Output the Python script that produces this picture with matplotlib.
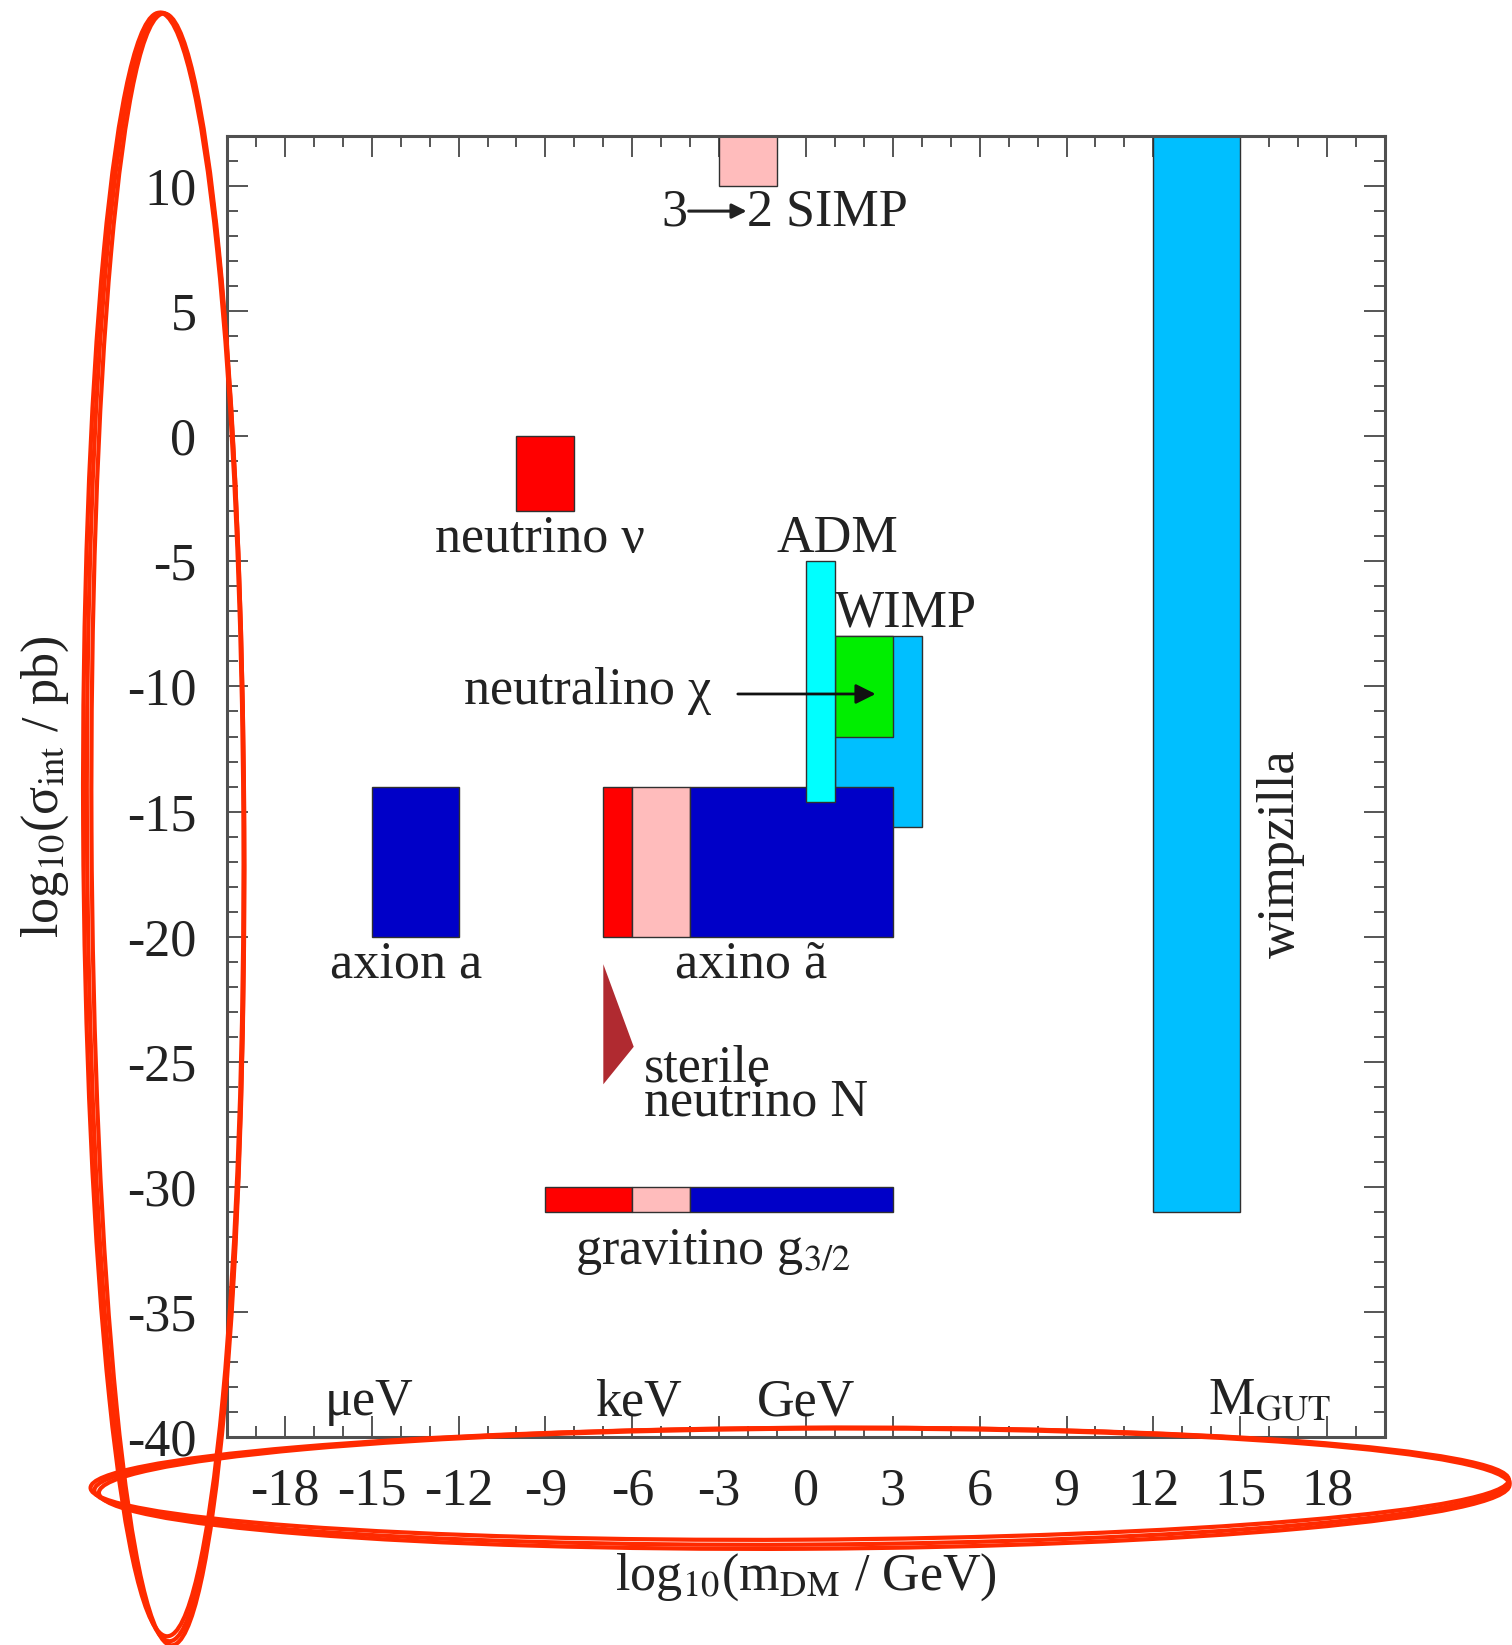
import matplotlib
matplotlib.use("Agg")
import matplotlib.pyplot as plt
from matplotlib.patches import Rectangle, Polygon, Ellipse
from matplotlib.ticker import MultipleLocator

plt.rcParams['font.family'] = ['Liberation Serif', 'DejaVu Serif']
plt.rcParams['mathtext.fontset'] = 'stix'
plt.rcParams['axes.unicode_minus'] = False

# =====================================================
# Candidate regions: (x0, x1, y0, y1, colour)
# x = log10(m / GeV), y = log10(sigma / pb)
# =====================================================

simp_box = [(-3, -1, 10, 12, "#ffbcbc")]
neutrino_box = [(-10, -8, -3, 0, "#ff0000")]
wimp_box = [(1, 4, -15.6, -8, "#00bfff")]
neutralino_box = [(1, 3, -12, -8, "#00ee00")]
axion_box = [(-15, -12, -20, -14, "#0000c8")]
axino_boxes = [
    (-7, -6, -20, -14, "#ff0000"),
    (-6, -4, -20, -14, "#ffbcbc"),
    (-4, 3, -20, -14, "#0000c8"),
]
adm_box = [(0, 1, -14.6, -5, "#00ffff")]
gravitino_boxes = [
    (-9, -6, -31, -30, "#ff0000"),
    (-6, -4, -31, -30, "#ffbcbc"),
    (-4, 3, -31, -30, "#0000c8"),
]
wimpzilla_box = [(12, 15, -31, 12, "#00bfff")]

sterile_x = [-7, -5.95, -7]
sterile_y = [-21.1, -24.4, -25.9]

# labels: (x, y, text)
box_labels = [
    (-9.2, -4.1, "neutrino ν"),
    (1.1, -4.1, "ADM"),
    (3.45, -7.1, "WIMP"),
    (-7.55, -10.2, "neutralino χ"),
    (-13.8, -21.1, "axion a"),
    (-1.9, -21.1, "axino ã"),
    (-3.2, -32.6, r"gravitino g$_{3/2}$"),
]
scale_labels = [
    (-15.1, -38.6, "μeV"),
    (-5.8, -38.6, "keV"),
    (0.0, -38.6, "GeV"),
    (16.0, -38.6, r"M$_{\rm GUT}$"),
]

x_ticks = list(range(-18, 19, 3))
y_ticks = list(range(-40, 11, 5))

FS = 37.5

# =====================================================
# Figure
# =====================================================

fig = plt.figure(figsize=(15.12, 16.45), dpi=100)
ax = fig.add_axes([0.1501, 0.1264, 0.7659, 0.7909])

ax.set_xlim(-20, 20)
ax.set_ylim(-40, 12)


def draw_boxes(boxes, z):
    for x0, x1, y0, y1, c in boxes:
        ax.add_patch(Rectangle((x0, y0), x1 - x0, y1 - y0,
                               facecolor=c, edgecolor="#303030",
                               linewidth=1.0, zorder=z))


draw_boxes(wimpzilla_box, 2)
draw_boxes(simp_box, 2)
draw_boxes(neutrino_box, 2)
draw_boxes(wimp_box, 2)
draw_boxes(neutralino_box, 3)
draw_boxes(axion_box, 2)
draw_boxes(axino_boxes, 4)
draw_boxes(adm_box, 5)
draw_boxes(gravitino_boxes, 2)

ax.add_patch(Polygon(list(zip(sterile_x, sterile_y)), closed=True,
                     facecolor="#b02a30", edgecolor="none", zorder=2))

txt = dict(fontsize=FS, color="#222222", ha="center", va="center")

for x, y, s in box_labels:
    ax.text(x, y, s, zorder=6, **txt)

for x, y, s in scale_labels:
    ax.text(x, y, s, zorder=6, **txt)

# 3 -> 2 SIMP, drawn as two words joined by a short arrow
ax.text(-4.55, 8.95, "3", zorder=6, **txt)
ax.annotate("", xy=(-2.05, 9.0), xytext=(-4.05, 9.0),
            arrowprops=dict(arrowstyle="-|>", color="#222222", lw=2.2,
                            mutation_scale=22, shrinkA=0, shrinkB=0),
            zorder=6)
ax.text(-2.05, 8.95, "2 SIMP", fontsize=FS, color="#222222",
        ha="left", va="center", zorder=6)

ax.text(-5.6, -25.95, "sterile\nneutrino N", fontsize=FS, color="#222222",
        ha="left", va="center", linespacing=0.62, zorder=6)

ax.text(16.4, -16.7, "wimpzilla", fontsize=FS, color="#222222",
        ha="center", va="center", rotation=90, zorder=6)

# neutralino arrow
ax.annotate("", xy=(2.5, -10.3), xytext=(-2.45, -10.3),
            arrowprops=dict(arrowstyle="-|>", color="#111111", lw=2,
                            mutation_scale=30),
            zorder=7)

# =====================================================
# Axes styling
# =====================================================

ax.set_xticks(x_ticks)
ax.set_yticks(y_ticks)
ax.xaxis.set_minor_locator(MultipleLocator(1))
ax.yaxis.set_minor_locator(MultipleLocator(1))

ax.tick_params(which="both", direction="in", top=True, right=True,
               color="#555555", width=1.4, labelsize=FS,
               labelcolor="#222222")
ax.tick_params(which="major", length=15, pad=22)
ax.tick_params(which="minor", length=8)

for sp in ax.spines.values():
    sp.set_color("#505050")
    sp.set_linewidth(2.2)

ax.set_xlabel(r"log$_{10}$(m$_{\rm DM}$ / GeV)", fontsize=FS,
              color="#222222", labelpad=26)
ax.set_ylabel(r"log$_{10}$(σ$_{\rm int}$ / pb)", fontsize=FS,
              color="#222222", labelpad=40)

# =====================================================
# Red marker rings around both axes
# =====================================================

ring = dict(fill=False, edgecolor="#ff2a00", transform=fig.transFigure,
            zorder=10)

for dx, dy, dw, dh in [(0, 0, 0, 0), (0.0015, -0.0015, -0.003, 0.002),
                       (-0.0015, 0.0015, 0.002, -0.003)]:
    fig.add_artist(Ellipse((0.1095 + dx, 0.4973 + dy), 0.104 + dw,
                           0.990 + dh, angle=0.3, linewidth=3.0, **ring))
    fig.add_artist(Ellipse((0.5304 + dx, 0.0965 + dy), 0.936 + dw,
                           0.071 + dh, angle=0.3, linewidth=3.0, **ring))

fig.savefig("out.png", dpi=100)
plt.close(fig)
